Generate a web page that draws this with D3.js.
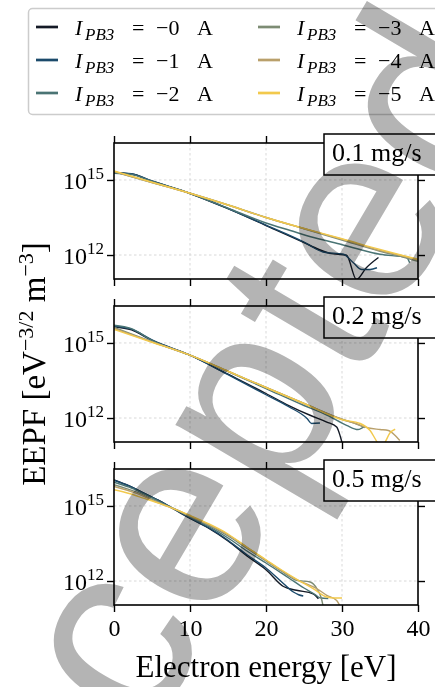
<!DOCTYPE html>
<html><head><meta charset="utf-8">
<script src="https://cdn.jsdelivr.net/npm/d3@7"></script>
<style>html,body{margin:0;padding:0;background:#fff;overflow:hidden}</style>
</head><body><svg id="c" width="435" height="687"></svg>
<script>
// ---------- data ----------
const currents = ["0", "1", "2", "3", "4", "5"];           // I_PB3 = -n A
const seriesColors = ["#141a26", "#1b4a6b", "#4a7474", "#7d8c74", "#b9a06b", "#f2c94c"];
const flowLabels = ["0.1 mg/s", "0.2 mg/s", "0.5 mg/s"];
const xTicks = [0, 10, 20, 30, 40];
const yTicks = [1e12, 1e15];
const yTickExp = ["12", "15"];

// 0.1 mg/s : [electron energy eV, EEPF eV^-3/2 m^-3]
const f01_0A = [[0,1.91e15],[2.3,1.74e15],[5,8.91e14],[10,2.88e14],[15,7.08e13],[20,1.51e13],[25,3.16e12],[26.9,1.70e12],[28.4,1.17e12],[30.6,9.77e11],[31.9,1.05e11],[33.2,3.09e11],[34.8,7.94e11]];
const f01_1A = [[0,2.0e15],[2.3,1.78e15],[5,9.12e14],[10,2.95e14],[15,7.24e13],[20,1.58e13],[25,3.31e12],[27.5,1.32e12],[30.2,1.07e12],[31.5,4.9e11],[32.6,2.63e11],[33.7,2.63e11],[34.6,3.09e11]];
const f01_2A = [[0,1.86e15],[2.3,1.66e15],[5,8.91e14],[10,2.88e14],[15,7.41e13],[20,1.91e13],[23.2,9.55e12],[26,5.25e12],[29.7,2.75e12],[32,1.78e12],[35,1.07e12],[38.5,7.94e11],[38.9,4.9e11]];
const f01_3A = [[0,2.14e15],[5,7.94e14],[10,2.95e14],[15,1.0e14],[20,3.16e13],[25,1.12e13],[30,3.98e12],[35,1.41e12],[38,8.32e11],[40,5.62e11]];
const f01_4A = [[0,2.19e15],[5,7.94e14],[10,2.95e14],[15,1.0e14],[20,3.16e13],[25,1.15e13],[30,4.27e12],[35,1.51e12],[38,9.12e11],[40,6.31e11]];
const f01_5A = [[0,2.29e15],[5,8.13e14],[10,2.95e14],[15,1.0e14],[20,3.16e13],[25,1.15e13],[30,4.47e12],[35,1.66e12],[38,9.55e11],[40,6.76e11]];

// 0.2 mg/s
const f02_0A = [[0,4.47e15],[2.3,3.31e15],[5,1.26e15],[10,3.24e14],[15,5.62e13],[20,9.55e12],[23,3.16e12],[25.8,1.29e12],[28,6.92e11],[29.3,4.37e11],[29.8,1.74e11],[30.1,7.94e10]];
const f02_1A = [[0,4.79e15],[2.3,3.55e15],[5,1.32e15],[10,3.24e14],[15,5.37e13],[20,8.51e12],[23,2.82e12],[25.4,9.55e11],[26,6.03e11],[27.1,6.31e11]];
const f02_2A = [[0,5.13e15],[2.3,3.72e15],[5,1.26e15],[10,3.24e14],[15,7.08e13],[20,1.51e13],[25,3.16e12],[28,1.32e12],[30.6,5.13e11],[32.1,3.47e11],[33,4.68e11]];
const f02_3A = [[0,4.17e15],[5,1.12e15],[10,3.24e14],[15,7.41e13],[20,1.66e13],[25,3.8e12],[30,8.91e11],[32,5.62e11],[33,4.17e11]];
const f02_4A = [[0,3.8e15],[5,1.1e15],[10,3.24e14],[15,7.41e13],[20,1.66e13],[25,3.8e12],[30,8.91e11],[32,5.75e11],[33.5,3.98e11],[35,3.47e11],[36.1,3.16e11],[37,2.0e11],[37.6,1.26e11]];
const f02_5A = [[0,3.47e15],[5,1.07e15],[10,3.24e14],[15,7.41e13],[20,1.66e13],[25,3.8e12],[30,8.51e11],[32.4,6.03e11],[33.7,3.16e11],[34.6,1.12e11],[35.2,6.31e10],[35.7,1.12e11],[36.3,2.51e11],[37,3.55e11]];

// 0.5 mg/s
const f05_0A = [[0,1.1e16],[2,6.31e15],[4,3.16e15],[6,1.58e15],[8,7.08e14],[10,3.16e14],[12.5,1.26e14],[15,3.98e13],[17.5,1.0e13],[20,2.82e12],[22.3,6.03e11],[24,4.27e11],[26.2,3.09e11],[26.9,1.95e11]];
const f05_1A = [[0,1.07e16],[2,6.31e15],[4,3.16e15],[6,1.58e15],[8,7.24e14],[10,3.31e14],[12.5,1.32e14],[15,4.27e13],[17.5,1.12e13],[20,3.31e12],[22,9.55e11],[23.6,3.63e11],[24.3,2.82e11],[24.9,2.51e11]];
const f05_2A = [[0,8.91e15],[2,5.62e15],[4,2.95e15],[6,1.48e15],[8,7.24e14],[10,3.55e14],[12.5,1.48e14],[15,5.25e13],[17.5,1.58e13],[20,5.25e12],[23,1.32e12],[25,5.25e11],[26.5,2.82e11],[27.1,2.14e11],[28.2,2.0e11]];
const f05_3A = [[0,7.08e15],[3,3.55e15],[6,1.35e15],[8,7.59e14],[10,3.8e14],[12.5,1.66e14],[15,6.31e13],[17.5,2.0e13],[20,6.31e12],[22,2.51e12],[24,1.07e12],[25.8,9.12e11],[26.7,4.9e11],[27.3,1.95e11],[27.5,1.05e11]];
const f05_4A = [[0,6.03e15],[3,3.16e15],[6,1.26e15],[8,7.41e14],[10,3.98e14],[12.5,1.78e14],[15,7.08e13],[17.5,2.24e13],[20,6.76e12],[22,2.69e12],[24,1.15e12],[26.7,4.9e11],[28,2.69e11],[29.3,1.66e11],[29.7,1.05e11]];
const f05_5A = [[0,4.47e15],[2,3.16e15],[4,2.0e15],[6,1.26e15],[8,7.41e14],[10,4.17e14],[12.5,1.91e14],[15,7.59e13],[17.5,2.24e13],[20,7.08e12],[22,2.82e12],[24,1.2e12],[26.2,5.01e11],[28,2.29e11],[29,2.09e11],[30,2.09e11]];

const panelData = [
  [f01_0A, f01_1A, f01_2A, f01_3A, f01_4A, f01_5A],
  [f02_0A, f02_1A, f02_2A, f02_3A, f02_4A, f02_5A],
  [f05_0A, f05_1A, f05_2A, f05_3A, f05_4A, f05_5A]
];

// ---------- layout ----------
const serif = "'Liberation Serif','DejaVu Serif',serif";
const svg = d3.select("#c");
const left = 114, right = 418;
const panelTops = [143, 306, 469], panelH = 136;
const x = d3.scaleLinear().domain([0, 40]).range([left, right]);

// legend
const lg = svg.append("g");
lg.append("rect").attr("x", 28.5).attr("y", 8.5).attr("width", 440).attr("height", 106)
  .attr("rx", 4).attr("fill", "#fff").attr("stroke", "#cccccc").attr("stroke-width", 1.5);
currents.forEach((c, i) => {
  const col = Math.floor(i / 3), row = i % 3;
  const lx = 36 + col * 222, ly = 27 + row * 33;
  lg.append("line").attr("x1", lx).attr("x2", lx + 22).attr("y1", ly).attr("y2", ly)
    .attr("stroke", seriesColors[i]).attr("stroke-width", 2.7);
  const t = lg.append("text").attr("y", ly + 8).attr("font-family", serif).attr("font-size", 22).attr("fill", "#000");
  t.append("tspan").attr("x", lx + 39).attr("font-style", "italic").text("I");
  t.append("tspan").attr("x", lx + 49).attr("dy", 5).attr("font-size", 17).attr("font-style", "italic").text("PB3");
  t.append("tspan").attr("x", lx + 96).attr("dy", -5).text("=");
  t.append("tspan").attr("x", lx + 120).text("\u2212" + c);
  t.append("tspan").attr("x", lx + 161).text("A");
});

const line = d3.line().curve(d3.curveMonotoneX);

panelData.forEach((series, pi) => {
  const top = panelTops[pi], bot = top + panelH;
  const y = d3.scaleLog().domain([1.1e11, 3.0e16]).range([bot, top]);
  const g = svg.append("g");
  const cid = "clip" + pi;
  g.append("clipPath").attr("id", cid).append("rect")
    .attr("x", left).attr("y", top).attr("width", right - left).attr("height", panelH);

  // grid
  g.selectAll(".gx").data(xTicks.slice(1, -1)).join("line")
    .attr("x1", d => x(d)).attr("x2", d => x(d)).attr("y1", top).attr("y2", bot)
    .attr("stroke", "#cfcfcf").attr("stroke-width", 0.8).attr("stroke-dasharray", "2.5,2.5");
  g.selectAll(".gy").data(yTicks).join("line")
    .attr("x1", left).attr("x2", right).attr("y1", d => y(d)).attr("y2", d => y(d))
    .attr("stroke", "#cfcfcf").attr("stroke-width", 0.8).attr("stroke-dasharray", "2.5,2.5");

  // lines
  const lgp = g.append("g").attr("clip-path", `url(#${cid})`);
  series.forEach((s, si) => {
    lgp.append("path").attr("d", line.x(d => x(d[0])).y(d => y(d[1]))(s))
      .attr("fill", "none").attr("stroke", seriesColors[si]).attr("stroke-width", 1.4)
      .attr("stroke-linejoin", "round");
  });

  // axes (ticks outward on all sides)
  const styleAx = a => { a.selectAll("path").remove(); a.selectAll("line").attr("stroke", "#000").attr("stroke-width", 1.4); };
  g.append("g").attr("transform", `translate(0,${top})`)
    .call(d3.axisTop(x).tickValues(xTicks).tickSize(7).tickFormat("")).call(styleAx);
  const bAx = g.append("g").attr("transform", `translate(0,${bot})`)
    .call(d3.axisBottom(x).tickValues(xTicks).tickSize(7).tickPadding(7)
      .tickFormat(pi === 2 ? d3.format("d") : "")).call(styleAx);
  bAx.selectAll("text").attr("font-family", serif).attr("font-size", 24).attr("fill", "#000");
  g.append("g").attr("transform", `translate(${left},0)`)
    .call(d3.axisLeft(y).tickValues(yTicks).tickSize(7).tickFormat("")).call(styleAx);
  g.append("g").attr("transform", `translate(${right},0)`)
    .call(d3.axisRight(y).tickValues(yTicks).tickSize(7).tickFormat("")).call(styleAx);

  // y tick labels 10^n
  yTicks.forEach((v, k) => {
    const t = g.append("text").attr("x", 104).attr("y", y(v) + 9).attr("text-anchor", "end")
      .attr("font-family", serif).attr("font-size", 24).attr("fill", "#000");
    t.append("tspan").text("10");
    t.append("tspan").attr("dy", -10).attr("font-size", 17).text(yTickExp[k]);
  });

  // frame
  g.append("rect").attr("x", left).attr("y", top).attr("width", right - left).attr("height", panelH)
    .attr("fill", "none").attr("stroke", "#000").attr("stroke-width", 1.6);

  // flow-rate label box
  g.append("rect").attr("x", 324).attr("y", top - 9).attr("width", 140).attr("height", 41)
    .attr("fill", "#fff").attr("stroke", "#000").attr("stroke-width", 1.5);
  g.append("text").attr("x", 332).attr("y", top + 18).attr("font-family", serif)
    .attr("font-size", 26).attr("fill", "#000").text(flowLabels[pi]);
});

// axis titles
svg.append("text").attr("x", 266).attr("y", 677).attr("text-anchor", "middle")
  .attr("font-family", serif).attr("font-size", 31).attr("fill", "#000").text("Electron energy [eV]");
const yt = svg.append("text").attr("transform", "translate(45,364) rotate(-90)").attr("text-anchor", "middle")
  .attr("font-family", serif).attr("font-size", 33).attr("fill", "#000");
yt.append("tspan").text("EEPF [eV");
yt.append("tspan").attr("dy", -12).attr("font-size", 22).text("\u22123/2");
yt.append("tspan").attr("dy", 12).text(" m");
yt.append("tspan").attr("dy", -12).attr("font-size", 22).text("\u22123");
yt.append("tspan").attr("dy", 12).text("]");

// watermark
svg.append("text").attr("transform", "translate(265,538) rotate(-59.5)")
  .attr("text-anchor", "middle")
  .attr("font-family", "'Liberation Sans',sans-serif").attr("font-size", 255)
  .attr("fill", "#b4b4b4").style("mix-blend-mode", "multiply").text("Accepted");
</script></body></html>
